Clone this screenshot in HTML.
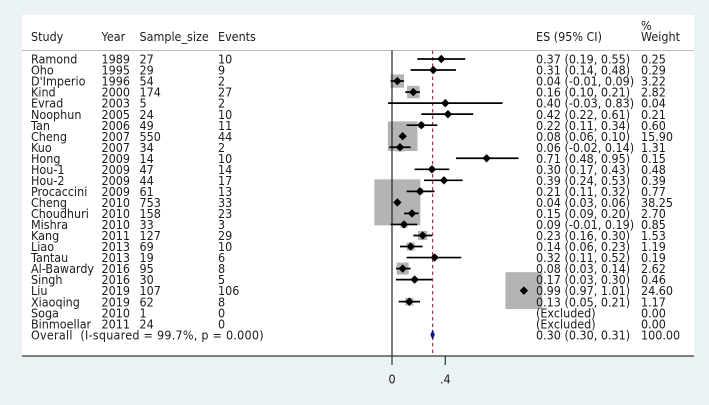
<!DOCTYPE html>
<html>
<head>
<meta charset="utf-8">
<title>Forest plot</title>
<style>
html,body{margin:0;padding:0;background:#eaf2f4;}
svg{display:block;}
text{font-family:"DejaVu Sans",sans-serif;font-size:11.2px;fill:#1c1c1c;}
</style>
</head>
<body>
<svg id="chart" width="709" height="405" viewBox="0 0 709 405" xmlns="http://www.w3.org/2000/svg">
  <rect x="0" y="0" width="709" height="405" fill="#eaf2f4"/>
  <rect x="22" y="15" width="672" height="341" fill="#ffffff"/>
  <line x1="22" x2="694" y1="50.5" y2="50.5" stroke="#bdbdbd" stroke-width="1"/>
  <text x="31" y="41">Study</text>
  <text x="101.5" y="41">Year</text>
  <text x="139.5" y="41">Sample_size</text>
  <text x="218" y="41">Events</text>
  <text x="536" y="41">ES (95% CI)</text>
  <text x="641" y="30">%</text>
  <text x="641" y="41">Weight</text>
  <g id="layer-boxes"></g>
  <g id="layer-axis"></g>
  <g id="layer-marks"></g>
  <g id="layer-text"></g>
</svg>
<script>
const studies = ["Ramond","Oho","D'Imperio","Kind","Evrad","Noophun","Tan","Cheng","Kuo","Hong","Hou-1","Hou-2","Procaccini","Cheng","Choudhuri","Mishra","Kang","Liao","Tantau","Al-Bawardy","Singh","Liu","Xiaoqing","Soga","Binmoellar"];
const years = [1989,1995,1996,2000,2003,2005,2006,2007,2007,2009,2009,2009,2009,2010,2010,2010,2011,2013,2013,2016,2016,2019,2019,2010,2011];
const sampleSizes = [27,29,54,174,5,24,49,550,34,14,47,44,61,753,158,33,127,69,19,95,30,107,62,1,24];
const events = [10,9,2,27,2,10,11,44,2,10,14,17,13,33,23,3,29,10,6,8,5,106,8,0,0];
const es = [0.37,0.31,0.04,0.16,0.40,0.42,0.22,0.08,0.06,0.71,0.30,0.39,0.21,0.04,0.15,0.09,0.23,0.14,0.32,0.08,0.17,0.99,0.13,null,null];
const ciLow = [0.19,0.14,-0.01,0.10,-0.03,0.22,0.11,0.06,-0.02,0.48,0.17,0.24,0.11,0.03,0.09,-0.01,0.16,0.06,0.11,0.03,0.03,0.97,0.05,null,null];
const ciHigh = [0.55,0.48,0.09,0.21,0.83,0.61,0.34,0.10,0.14,0.95,0.43,0.53,0.32,0.06,0.20,0.19,0.30,0.23,0.52,0.14,0.30,1.01,0.21,null,null];
const weights = [0.25,0.29,3.22,2.82,0.04,0.21,0.60,15.90,1.31,0.15,0.48,0.39,0.77,38.25,2.70,0.85,1.53,1.19,0.19,2.62,0.46,24.60,1.17,0.00,0.00];
const overallEs = 0.30;
const overallLow = 0.30;
const overallHigh = 0.31;
const overallWeight = 100.00;
const overallLabel = "Overall  (I-squared = 99.7%, p = 0.000)";
const xTicks = [0, 0.4];
const xTickLabels = ["0", ".4"];

const SVGNS = "http://www.w3.org/2000/svg";
function xScale(v){ return 392 + v * 133.2; }
function rowY(i){ return 59 + i * 11.03; }
function boxSide(w){ return Math.sqrt(w) * 7.44; }
function make(parent, tag, attrs){
  const el = document.createElementNS(SVGNS, tag);
  for (const k in attrs) el.setAttribute(k, attrs[k]);
  parent.appendChild(el);
  return el;
}
function label(parent, x, y, str){
  const t = make(parent, "text", {x: x, y: y});
  t.style.whiteSpace = "pre";
  t.textContent = str;
  return t;
}
const layerBoxes = document.getElementById("layer-boxes");
const layerAxis = document.getElementById("layer-axis");
const layerMarks = document.getElementById("layer-marks");
const layerText = document.getElementById("layer-text");

studies.forEach(function(name, i){
  const y = rowY(i);
  const base = y + 4.6;
  const t1 = label(layerText, 31, base, name);
  
  
  const t2 = label(layerText, 101.5, base, String(years[i]));
  
  
  const t3 = label(layerText, 139.5, base, String(sampleSizes[i]));
  
  
  const t4 = label(layerText, 218, base, String(events[i]));
  
  
  const esText = es[i] === null ? "(Excluded)" :
    es[i].toFixed(2) + " (" + ciLow[i].toFixed(2) + ", " + ciHigh[i].toFixed(2) + ")";
  const t5 = label(layerText, 536, base, esText);
  
  
  const t6 = label(layerText, 641, base, weights[i].toFixed(2));
  
  

  if (es[i] === null) return;
  const s = boxSide(weights[i]);
  const cx = xScale(es[i]);
  const box = make(layerBoxes, "rect", {x: cx - s / 2, y: y - s / 2, width: s, height: s, fill: "#b4b4b4"});
  
  
  const ci = make(layerMarks, "line", {x1: xScale(ciLow[i]), x2: xScale(ciHigh[i]), y1: y, y2: y, stroke: "#000", "stroke-width": 1.7});
  
  
  const pts = [[cx - 4.2, y], [cx, y - 4.2], [cx + 4.2, y], [cx, y + 4.2]].map(function(p){ return p.join(","); }).join(" ");
  const d = make(layerMarks, "polygon", {points: pts, fill: "#000"});
  
  
});

/* axis */
const axisLine = make(layerAxis, "line", {x1: 22, x2: 694, y1: 356, y2: 356, stroke: "#333", "stroke-width": 1.2});


const zeroLine = make(layerAxis, "line", {x1: xScale(0), x2: xScale(0), y1: 50.5, y2: 356, stroke: "#222", "stroke-width": 1.2});


xTicks.forEach(function(v, i){
  const tick = make(layerAxis, "line", {x1: xScale(v), x2: xScale(v), y1: 356, y2: 365, stroke: "#333", "stroke-width": 1.2});
  
  
  const t = label(layerAxis, xScale(v), 383.5, xTickLabels[i]);
  t.setAttribute("text-anchor", "middle");
  
  
});
const refLine = make(layerAxis, "line", {x1: xScale(overallEs + 0.005), x2: xScale(overallEs + 0.005), y1: 50.5, y2: 356, stroke: "#a8324a", "stroke-width": 1.2, "stroke-dasharray": "3.5 3"});



/* overall row */
const oy = rowY(studies.length);
const ob = oy + 4.6;
const oPts = [[xScale(overallLow) - 1.2, oy], [xScale((overallLow + overallHigh) / 2), oy - 4.6], [xScale(overallHigh) + 1.2, oy], [xScale((overallLow + overallHigh) / 2), oy + 4.6]].map(function(p){ return p.join(","); }).join(" ");
const oDia = make(layerMarks, "polygon", {points: oPts, fill: "#14148a", stroke: "#14148a", "stroke-width": 0.6});


const oT1 = label(layerText, 31, ob, overallLabel);
oT1.style.letterSpacing = "0.25px";


const oT2 = label(layerText, 536, ob, overallEs.toFixed(2) + " (" + overallLow.toFixed(2) + ", " + overallHigh.toFixed(2) + ")");


const oT3 = label(layerText, 641, ob, overallWeight.toFixed(2));



/* stretch all text a little vertically to match the tall, narrow face of the reference */
document.querySelectorAll("#chart text").forEach(function(t){
  const x = parseFloat(t.getAttribute("x"));
  const y = parseFloat(t.getAttribute("y"));
  t.setAttribute("x", 0);
  t.setAttribute("y", 0);
  t.setAttribute("transform", "translate(" + x + "," + y + ") scale(1,1.12)");
});
</script>
</body>
</html>
